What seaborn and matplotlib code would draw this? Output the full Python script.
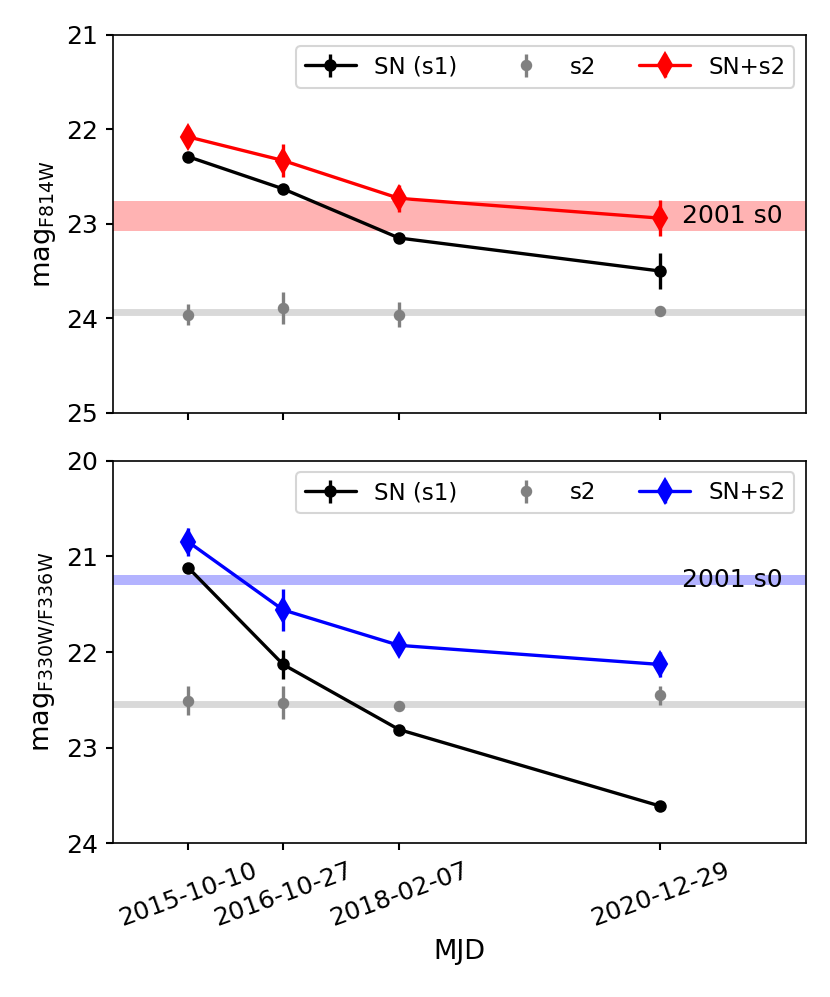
import matplotlib
matplotlib.use("Agg")
import matplotlib.pyplot as plt
import seaborn as sns

# epochs (MJD) and their date labels
mjd = [57305, 57688, 58156, 59212]
date_labels = ["2015-10-10", "2016-10-27", "2018-02-07", "2020-12-29"]

# F814W
f814_sn = [22.29, 22.63, 23.15, 23.50]
f814_sn_err = [0.03, 0.03, 0.03, 0.19]
f814_s2 = [23.96, 23.89, 23.96, 23.92]
f814_s2_err = [0.11, 0.17, 0.13, 0.02]
f814_sum = [22.08, 22.33, 22.73, 22.94]
f814_sum_err = [0.11, 0.17, 0.14, 0.19]
f814_s0 = (22.76, 23.08)
f814_s2_level = 23.93

# F330W / F336W
uv_sn = [21.12, 22.13, 22.81, 23.61]
uv_sn_err = [0.03, 0.15, 0.05, 0.05]
uv_s2 = [22.51, 22.53, 22.56, 22.45]
uv_s2_err = [0.15, 0.17, 0.03, 0.10]
uv_sum = [20.85, 21.56, 21.93, 22.13]
uv_sum_err = [0.15, 0.22, 0.07, 0.13]
uv_s0 = (21.19, 21.30)
uv_s2_level = 22.54


def panel(ax, sn, sn_err, s2, s2_err, tot, tot_err, s0, s2_level, color, band, ylim, ylabel, s0_y):
    ax.axhspan(s0[0], s0[1], color=band, lw=0, zorder=0)
    ax.axhline(s2_level, color="#d9d9d9", lw=3.3, zorder=0)
    ax.errorbar(mjd, sn, yerr=sn_err, fmt="o-", color="k", ms=5, lw=1.6, label="SN (s1)")
    ax.errorbar(mjd, s2, yerr=s2_err, fmt="o", color="gray", ms=4.5, lw=1.6, label="s2")
    ax.errorbar(mjd, tot, yerr=tot_err, fmt="d-", color=color, ms=8, lw=1.6, label="SN+s2")
    ax.text(59300, s0_y, "2001 s0", fontsize=12, va="center", ha="left")
    ax.set_xlim(57000, 59800)
    ax.set_ylim(*ylim)
    ax.set_yticks(range(int(ylim[1]), int(ylim[0]) + 1))
    ax.set_xticks(mjd)
    ax.set_ylabel(ylabel, fontsize=13)
    ax.legend(loc="upper right", ncol=3, fontsize=11, columnspacing=1.9,
              handlelength=2.2, framealpha=0.8)


sns.set_style("ticks")
plt.rcParams["font.family"] = ["DejaVu Sans"]
for key in ["axes.edgecolor", "xtick.color", "ytick.color", "text.color", "axes.labelcolor"]:
    plt.rcParams[key] = "black"

fig = plt.figure(figsize=(830 / 150, 997 / 150), dpi=150)
ax1 = fig.add_axes([0.136, 0.586, 0.835, 0.379])
ax2 = fig.add_axes([0.136, 0.154, 0.835, 0.384])

panel(ax1, f814_sn, f814_sn_err, f814_s2, f814_s2_err, f814_sum, f814_sum_err,
      f814_s0, f814_s2_level, "red", "#ffb3b3", (25, 21), r"mag$_{\rm F814W}$", 22.92)
panel(ax2, uv_sn, uv_sn_err, uv_s2, uv_s2_err, uv_sum, uv_sum_err,
      uv_s0, uv_s2_level, "blue", "#b3b3ff", (24, 20), r"mag$_{\rm F330W/F336W}$", 21.25)

ax1.set_xticklabels([])
ax2.set_xticklabels(date_labels, rotation=20, fontsize=12)
ax1.tick_params(labelsize=12, width=1.0)
ax2.tick_params(labelsize=12, width=1.0)
ax2.set_xlabel("MJD", fontsize=13)

fig.savefig("out.png", dpi=150)
